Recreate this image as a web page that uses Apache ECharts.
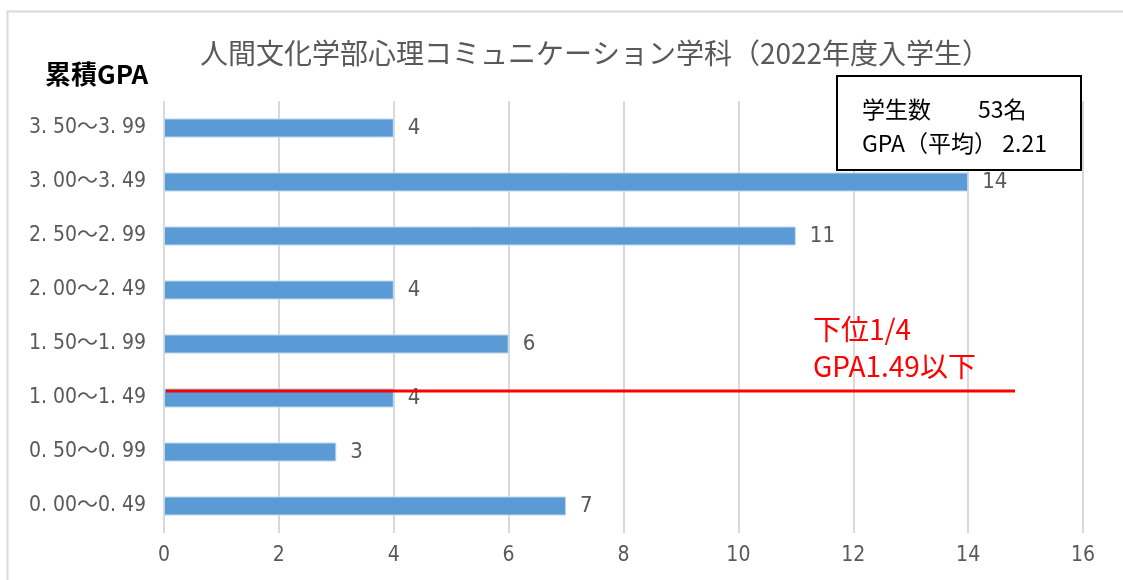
<!DOCTYPE html>
<html lang="ja">
<head>
  <meta charset="UTF-8">
  <title>累積GPA</title>
  <script src="https://cdn.jsdelivr.net/npm/echarts@6.0.0/dist/echarts.min.js"></script>
  <style>
    html, body { margin: 0; padding: 0; background: #fff; }
    #char { width: 1123px; height: 580px; }
  </style>
</head>
<body>
  <div id="char"></div>
  <script>
    // データ
    const categories = ['0. 00～0. 49', '0. 50～0. 99', '1. 00～1. 49', '1. 50～1. 99',
      '2. 00～2. 49', '2. 50～2. 99', '3. 00～3. 49', '3. 50～3. 99'];
    const counts = [7, 3, 4, 6, 4, 11, 14, 4];
    const xTicks = [0, 2, 4, 6, 8, 10, 12, 14, 16];

    const gray = '#595959';
    const numFont = '"DejaVu Sans Condensed", "Noto Sans CJK JP", sans-serif';
    const jpFont = '"Noto Sans CJK JP", sans-serif';

    const chartDom = document.getElementById('char');
    const myChart = echarts.init(chartDom, null, { renderer: 'canvas' });

    const option = {
      backgroundColor: '#fff',
      animation: false,
      title: {
        text: '人間文化学部心理コミュニケーション学科（2022年度入学生）',
        left: 590,
        textAlign: 'center',
        top: 34,
        textStyle: { color: gray, fontSize: 28, fontWeight: 'normal', fontFamily: jpFont }
      },
      grid: { left: 164, right: 40, top: 101, bottom: 47 },
      xAxis: {
        type: 'value',
        min: 0,
        max: 16,
        interval: 2,
        axisLine: { show: false },
        axisTick: { show: false },
        splitLine: { lineStyle: { color: '#d9d9d9', width: 2 } },
        axisLabel: {
          color: gray, fontSize: 21, fontFamily: numFont, margin: 12,
          formatter: v => xTicks.includes(v) ? String(v) : ''
        }
      },
      yAxis: {
        type: 'category',
        data: categories,
        axisLine: { show: false },
        axisTick: { show: false },
        splitLine: { show: false },
        axisLabel: { color: gray, fontSize: 21, fontFamily: numFont, margin: 18 }
      },
      series: [{
        type: 'bar',
        data: counts,
        barWidth: 19,
        itemStyle: { color: '#5b9bd5', borderColor: '#bdd7ee', borderWidth: 1 },
        label: {
          show: true, position: 'right', distance: 14,
          color: gray, fontSize: 22, fontFamily: numFont
        }
      }],
      graphic: [
        // 外枠
        { type: 'rect', shape: { x: 7.5, y: 11.5, width: 1130, height: 600 },
          style: { fill: null, stroke: '#d9d9d9', lineWidth: 2 }, z: 0 },
        { type: 'text', left: 45, top: 61,
          style: { text: '累積GPA', fill: '#000', font: 'bold 26px "Noto Sans CJK JP", sans-serif' } },
        // 学生数ボックス
        { type: 'rect', shape: { x: 837, y: 76, width: 244, height: 94 },
          style: { fill: '#fff', stroke: '#000', lineWidth: 2 }, z: 10 },
        { type: 'text', left: 862, top: 98, z: 11,
          style: { text: '学生数', fill: '#000', font: '23px "Noto Sans CJK JP", sans-serif' } },
        { type: 'text', left: 978, top: 98, z: 11,
          style: { text: '53名', fill: '#000', font: '23px "Noto Sans CJK JP", sans-serif' } },
        { type: 'text', left: 862, top: 132, z: 11,
          style: { text: 'GPA（平均） 2.21', fill: '#000', font: '23px "Noto Sans CJK JP", sans-serif' } },
        // 下位1/4
        { type: 'line', shape: { x1: 166, y1: 391, x2: 1015, y2: 391 },
          style: { stroke: '#ff0000', lineWidth: 3 }, z: 10 },
        { type: 'text', left: 813, top: 315, z: 11,
          style: { text: '下位1/4', fill: '#ff0000', font: '28px "Noto Sans CJK JP", sans-serif' } },
        { type: 'text', left: 813, top: 352, z: 11,
          style: { text: 'GPA1.49以下', fill: '#ff0000', font: '28px "Noto Sans CJK JP", sans-serif' } }
      ]
    };

    option && myChart.setOption(option);
  </script>
</body>
</html>
